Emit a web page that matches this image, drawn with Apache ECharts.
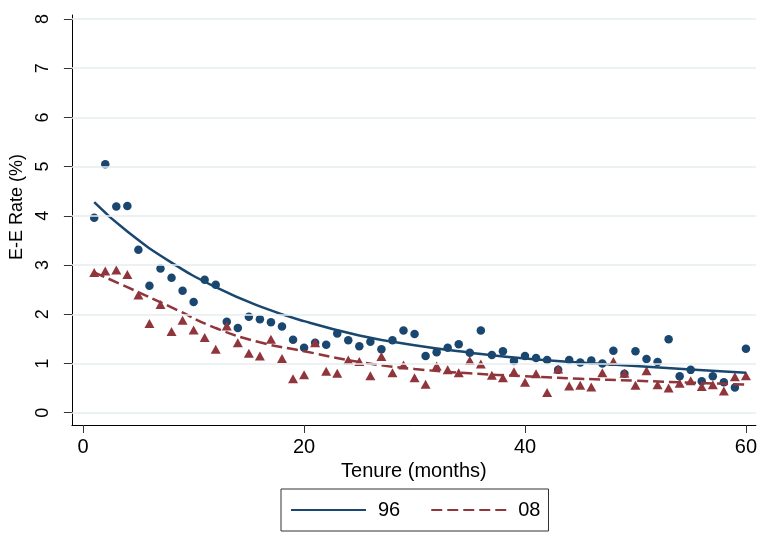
<!DOCTYPE html>
<html>
<head>
<meta charset="utf-8">
<script src="https://cdn.jsdelivr.net/npm/echarts@6/dist/echarts.min.js"></script>
<style>
  html, body { margin: 0; padding: 0; background: #fff; }
  #chart { width: 760px; height: 535px; }
</style>
</head>
<body>
<div id="chart"></div>
<script>
// Tenure in months for the monthly observations
const months = [
  1, 2, 3, 4, 5, 6, 7, 8, 9, 10, 11, 12, 13, 14, 15, 16, 17, 18, 19, 20,
  21, 22, 23, 24, 25, 26, 27, 28, 29, 30, 31, 32, 33, 34, 35, 36, 37, 38, 39, 40,
  41, 42, 43, 44, 45, 46, 47, 48, 49, 50, 51, 52, 53, 54, 55, 56, 57, 58, 59, 60
];

// Observed E-E rate (%), 1996 panel
const rate96 = [
  3.96, 5.05, 4.19, 4.20, 3.31, 2.58, 2.93, 2.74, 2.48, 2.25,
  2.70, 2.60, 1.85, 1.72, 1.95, 1.90, 1.84, 1.75, 1.48, 1.32,
  1.42, 1.38, 1.61, 1.47, 1.35, 1.44, 1.29, 1.47, 1.67, 1.60,
  1.15, 1.23, 1.32, 1.39, 1.22, 1.67, 1.17, 1.25, 1.05, 1.15,
  1.11, 1.07, 0.87, 1.07, 1.02, 1.06, 1.00, 1.26, 0.79, 1.25,
  1.09, 1.03, 1.49, 0.74, 0.87, 0.64, 0.74, 0.62, 0.51, 1.30
];

// Observed E-E rate (%), 2008 panel
const rate08 = [
  2.85, 2.88, 2.90, 2.81, 2.39, 1.81, 2.20, 1.65, 1.88, 1.68,
  1.53, 1.29, 1.76, 1.42, 1.21, 1.15, 1.49, 1.10, 0.69, 0.77,
  1.42, 0.84, 0.80, 1.07, 1.04, 0.75, 1.14, 0.81, 0.97, 0.71,
  0.58, 0.95, 0.87, 0.81, 1.06, 0.99, 0.76, 0.71, 0.83, 0.62,
  0.79, 0.41, 0.89, 0.54, 0.56, 0.52, 0.81, 1.04, 0.80, 0.56,
  0.85, 0.57, 0.50, 0.60, 0.65, 0.53, 0.57, 0.44, 0.73, 0.75
];

// Fitted curves, sampled along tenure
const fitMonths = [1, 4, 8, 12, 16, 20, 25, 30, 35, 40, 45, 50, 55, 60];
const fit96 = [4.28, 3.68, 3.05, 2.55, 2.16, 1.86, 1.57, 1.37, 1.22, 1.10, 1.02, 0.95, 0.88, 0.81];
const fit08 = [2.85, 2.55, 2.14, 1.72, 1.43, 1.25, 1.03, 0.89, 0.80, 0.74, 0.69, 0.65, 0.61, 0.57];

// Axis ticks
const xTicks = [0, 20, 40, 60];
const yTicks = [0, 1, 2, 3, 4, 5, 6, 7, 8];

const BLUE = '#1a476f';
const RED = '#90353b';
const FONT = 'Liberation Sans, Arial, Helvetica, sans-serif';

const pairs = (xs, ys) => xs.map((x, i) => [x, ys[i]]);

const chart = echarts.init(document.getElementById('chart'), null, { renderer: 'canvas' });

chart.setOption({
  animation: false,
  backgroundColor: '#ffffff',
  textStyle: { fontFamily: FONT, color: '#000' },
  grid: { left: 67.7, right: 3, top: 15, bottom: 110 },
  xAxis: {
    type: 'value',
    min: -1.02,
    max: 60.9,
    name: 'Tenure (months)',
    nameLocation: 'middle',
    nameGap: 32,
    nameTextStyle: { fontSize: 20, color: '#000', fontFamily: FONT },
    axisLine: { show: true, onZero: false, lineStyle: { color: '#000', width: 1 } },
    axisTick: { show: true, customValues: xTicks, length: 8, lineStyle: { color: '#333', width: 1 } },
    axisLabel: { customValues: xTicks, fontSize: 20, margin: 12, color: '#000', fontFamily: FONT },
    splitLine: { show: false }
  },
  yAxis: {
    type: 'value',
    min: -0.25,
    max: 8.08,
    name: 'E-E Rate (%)',
    nameLocation: 'middle',
    nameGap: 37,
    nameTextStyle: { fontSize: 18, color: '#000', fontFamily: FONT, padding: [0, 0, 0, 26] },
    axisLine: { show: true, onZero: false, lineStyle: { color: '#000', width: 1 } },
    axisTick: { show: true, customValues: yTicks, length: 8, lineStyle: { color: '#333', width: 1 } },
    axisLabel: {
      customValues: yTicks, fontSize: 18, rotate: 90, margin: 29,
      align: 'center', verticalAlign: 'middle', color: '#000', fontFamily: FONT
    },
    splitLine: { show: false }
  },
  legend: {
    data: ['96', '08'],
    left: 281,
    top: 489,
    orient: 'horizontal',
    padding: [11, 8, 11, 9],
    itemGap: 30,
    itemWidth: 75,
    itemHeight: 14,
    borderColor: '#333',
    borderWidth: 1,
    backgroundColor: '#fff',
    itemStyle: { opacity: 0 },
    textStyle: { fontSize: 20, color: '#000', fontFamily: FONT, padding: [0, 0, 0, 7] }
  },
  series: [
    {
      // horizontal gridlines at each y tick
      type: 'line',
      data: [],
      silent: true,
      z: 1,
      markLine: {
        silent: true,
        symbol: 'none',
        label: { show: false },
        lineStyle: { color: '#e6eef1', width: 1.5, type: 'solid' },
        data: yTicks.map(v => ({ yAxis: v }))
      }
    },
    {
      name: 'obs96',
      type: 'scatter',
      data: pairs(months, rate96),
      symbol: 'circle',
      symbolSize: 8.5,
      itemStyle: { color: BLUE, opacity: 1 },
      z: 3
    },
    {
      name: 'obs08',
      type: 'scatter',
      data: pairs(months, rate08),
      symbol: 'triangle',
      symbolSize: [10, 9],
      itemStyle: { color: RED, opacity: 1 },
      z: 3
    },
    {
      name: '96',
      type: 'line',
      data: pairs(fitMonths, fit96),
      smooth: true,
      symbol: 'none',
      showSymbol: false,
      lineStyle: { color: BLUE, width: 2.5, type: 'solid' },
      itemStyle: { color: BLUE },
      z: 4
    },
    {
      name: '08',
      type: 'line',
      data: pairs(fitMonths, fit08),
      smooth: true,
      symbol: 'none',
      showSymbol: false,
      lineStyle: { color: RED, width: 2.5, type: [11, 5] },
      itemStyle: { color: RED },
      z: 4
    }
  ]
});
</script>
</body>
</html>
